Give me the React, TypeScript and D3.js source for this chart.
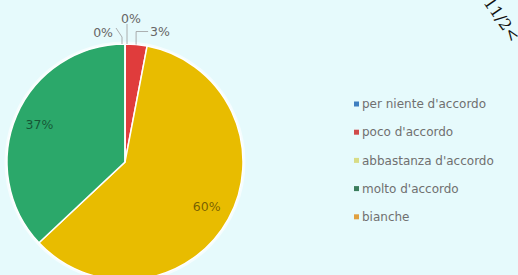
import React from "react";
import { pie, arc, PieArcDatum } from "d3";

const categories = [
  "per niente d'accordo",
  "poco d'accordo",
  "abbastanza d'accordo",
  "molto d'accordo",
  "bianche",
];
const values = [0, 3, 60, 37, 0];
const sliceColors = ["#4a8fd6", "#e03c3c", "#e8bc00", "#2ba86a", "#f0a030"];
const legendMarkers = ["#3f7fc0", "#d04a4a", "#d8dc86", "#3b7d5c", "#e0a040"];

const W = 518;
const H = 275;
const cx = 125;
const cy = 162;
const R = 118;

// tweak for the outside labels of the tiny slices (dx, dy from the slice edge)
const outsideOffsets: Record<number, [number, number]> = {
  0: [7, -25],
  1: [12, -13],
  4: [-10, -11],
};

const App: React.FC = () => {
  const arcs = pie<number>()
    .sort(null)
    .value((d) => d)(values);

  const slice = arc<PieArcDatum<number>>().innerRadius(0).outerRadius(R);
  const inner = arc<PieArcDatum<number>>().innerRadius(R * 0.79).outerRadius(R * 0.79);
  const edge = arc<PieArcDatum<number>>().innerRadius(R).outerRadius(R);

  return (
    <svg
      width={W}
      height={H}
      style={{ position: "absolute", left: 0, top: 0 }}
      fontFamily="'DejaVu Sans', Verdana, sans-serif"
    >
      <rect width={W} height={H} fill="#e6fafc" />
      <g transform={`translate(${cx},${cy})`}>
        <circle r={R + 1.5} fill="none" stroke="#ffffff" strokeOpacity={0.6} strokeWidth={2} />
        {arcs.map((a, i) => (
          <path
            key={i}
            d={slice(a) || ""}
            fill={sliceColors[i]}
            stroke="#ffffff"
            strokeWidth={1.5}
          />
        ))}
        {arcs.map((a, i) => {
          const off = outsideOffsets[i];
          if (off) {
            const [ex, ey] = edge.centroid(a);
            const lx = ex + off[0];
            const ly = ey + off[1];
            const anchor = off[0] < 0 ? "end" : "start";
            const tx = anchor === "end" ? lx - 2 : lx + 2;
            const pts =
              i === 1
                ? `${ex},${ey} ${ex},${ly} ${lx},${ly}`
                : i === 0
                ? `${ex + 2},${ey} ${ex + 2},${ly + 5}`
                : `${ex - 3},${ey} ${ex - 3},${ey - 7} ${lx + 1},${ly - 5}`;
            return (
              <g key={i}>
                <polyline points={pts} fill="none" stroke="#9a9a9a" strokeWidth={0.8} />
                <text
                  x={i === 0 ? ex + 6 : tx}
                  y={ly}
                  dy="0.35em"
                  textAnchor={i === 0 ? "middle" : anchor}
                  fontSize={12.5}
                  fill="#666"
                >
                  {values[i]}%
                </text>
              </g>
            );
          }
          const [x, y] = inner.centroid(a);
          return (
            <text
              key={i}
              x={x}
              y={y}
              dy="0.35em"
              textAnchor="middle"
              fontSize={12.5}
              fill="#000"
              fillOpacity={0.5}
            >
              {values[i]}%
            </text>
          );
        })}
      </g>
      <g transform="translate(356,104)">
        {categories.map((c, i) => (
          <g key={c} transform={`translate(0,${i * 28.2})`}>
            <rect x={-2} y={-2.5} width={5} height={5} fill={legendMarkers[i]} />
            <text x={6} dy="0.35em" fontSize={12} fill="#707070">
              {c}
            </text>
          </g>
        ))}
      </g>
      <text
        x={480}
        y={-2}
        transform="rotate(55,480,-2)"
        fontFamily="'DejaVu Serif', serif"
        fontSize={16}
        fill="#111"
      >
        -11/2&lt;
      </text>
    </svg>
  );
};

export default App;
